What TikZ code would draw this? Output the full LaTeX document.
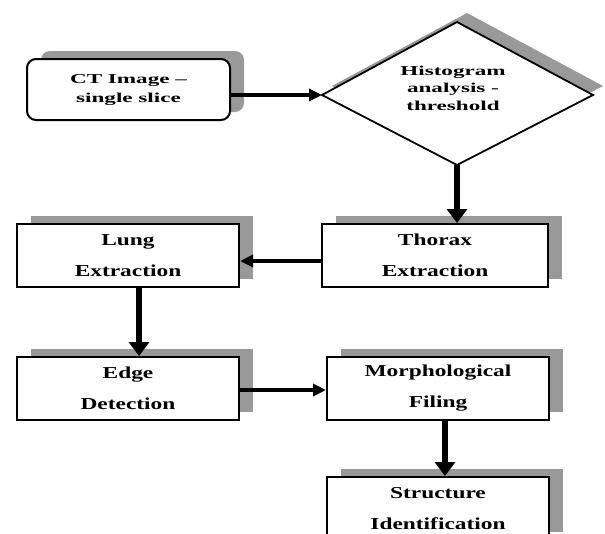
\documentclass[tikz,border=0pt]{standalone}
\usepackage{fontspec}
\setmainfont{Liberation Serif}
\newfontfamily\boxfont[FakeStretch=1.4]{Liberation Serif}
\newfontfamily\smallfont[FakeStretch=1.7]{Liberation Serif}
\usetikzlibrary{arrows.meta,shadows}
\definecolor{shadowgray}{gray}{0.6}
\begin{document}
\begin{tikzpicture}[x=1pt,y=-1pt,
  shad/.style={drop shadow={shadow xshift=14pt, shadow yshift=8pt, fill=shadowgray, opacity=1}},
  stagebox/.style={draw, line width=2pt, fill=white, shad, minimum width=222pt, minimum height=63pt,
    inner sep=0pt, align=center, font=\boxfont\bfseries\fontsize{16.7}{31}\selectfont},
  smalltext/.style={align=center, inner sep=0pt, font=\smallfont\bfseries\fontsize{13.6}{19}\selectfont},
  harrow/.style={line width=3.5pt, -{Triangle[length=13pt,width=12pt]}},
  varrow/.style={line width=6pt, -{Triangle[length=14pt,width=20pt]}}
]
\useasboundingbox (0,0) rectangle (605,533);
\clip (0,0) rectangle (605,533);
\fill[white] (0,0) rectangle (605,533);

% start box
\node[draw, line width=2pt, fill=white, shad, rounded corners=9pt, minimum width=203pt, minimum height=61pt,
  smalltext] (ct) at (128.5,89.5) {CT Image –\\single slice};

% diamond
\coordinate (dL) at (322,95);
\coordinate (dT) at (457,22);
\coordinate (dR) at (593,95);
\coordinate (dB) at (457,165);
\draw[line width=1.8pt, fill=white, drop shadow={shadow xshift=10pt, shadow yshift=9pt, fill=shadowgray, opacity=1}]
  (dL) -- (dT) -- (dR) -- (dB) -- cycle;
\node[smalltext, font=\smallfont\bfseries\fontsize{13.6}{17.5}\selectfont] (hist) at (453,88) {Histogram\\analysis -\\threshold};

% boxes
\node[stagebox, minimum width=226pt] (thorax) at (435,255.5) {Thorax\\Extraction};
\node[stagebox] (lung) at (128,255.5) {Lung\\Extraction};
\node[stagebox] (edge) at (128,388.5) {Edge\\Detection};
\node[stagebox] (morph) at (438,388.5) {Morphological\\Filing};
\node[stagebox] (struct) at (438,508.5) {Structure\\Identification};

% connectors
\draw[harrow] (ct.east |- dL) -- (dL);
\draw[varrow] (dB) -- (dB |- thorax.north);
\draw[harrow] ([yshift=-5.5pt]thorax.west) -- ([yshift=-5.5pt]lung.east);
\draw[varrow] ([xshift=11pt]lung.south) -- ([xshift=11pt]edge.north);
\draw[harrow] ([yshift=-1.5pt]edge.east) -- ([yshift=-1.5pt]morph.west);
\draw[varrow] ([xshift=7pt]morph.south) -- ([xshift=7pt]struct.north);
\end{tikzpicture}
\end{document}
